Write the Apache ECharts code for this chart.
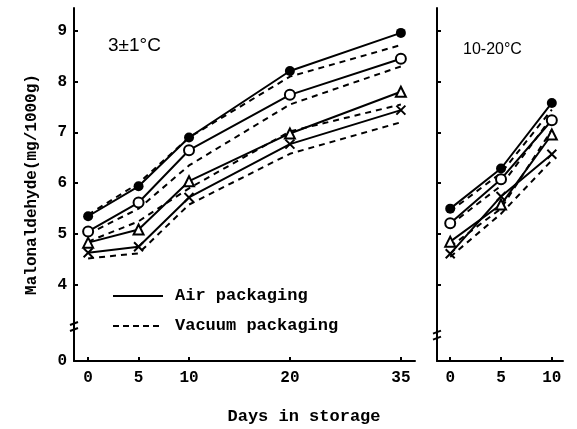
<!DOCTYPE html>
<html>
<head>
<meta charset="utf-8">
<script src="https://cdn.jsdelivr.net/npm/echarts@6/dist/echarts.min.js"></script>
<style>html,body{margin:0;background:#fff}#main{width:577px;height:429px}</style>
</head>
<body>
<div id="main"></div>
<script>
var chart = echarts.init(document.getElementById('main'));

var daysCold = [0, 5, 10, 20, 35];
var daysWarm = [0, 5, 10];
// rows: filled circle, open circle, triangle, cross
var coldAir = [
    [5.35, 5.94, 6.90, 8.21, 8.96],
    [5.05, 5.62, 6.65, 7.74, 8.45],
    [4.83, 5.09, 6.04, 6.98, 7.80],
    [4.63, 4.75, 5.72, 6.77, 7.44]
];
var coldVacuum = [
    [5.38, 6.00, 6.90, 8.10, 8.72],
    [5.00, 5.50, 6.35, 7.55, 8.30],
    [4.85, 5.25, 5.90, 7.02, 7.55],
    [4.52, 4.62, 5.58, 6.58, 7.20]
];
var warmAir = [
    [5.50, 6.29, 7.58],
    [5.21, 6.08, 7.24],
    [4.85, 5.58, 6.96],
    [4.61, 5.74, 6.57]
];
var warmVacuum = [
    [5.45, 6.20, 7.45],
    [5.18, 5.95, 7.30],
    [4.75, 5.50, 7.05],
    [4.55, 5.40, 6.45]
];
var yTicks = [4, 5, 6, 7, 8, 9];
var yLabels = [2.5, 4, 5, 6, 7, 8, 9];   // 2.5 is the broken-axis "0"
var coldTicks = [0, 5, 10, 20, 35];
var warmTicks = [0, 5, 10];

var markers = ['circle', 'emptyCircle', 'emptyTriangle', 'path://M0,0L10,10M10,0L0,10'];
var mono = 'Liberation Mono';

var pairs = function (days, vals) {
    return days.map(function (d, i) { return [d, vals[i]]; });
};

var series = [];
function addPanel(idx, days, air, vac) {
    for (var i = 0; i < air.length; i++) {
        series.push({
            type: 'line', name: 'Air packaging',
            xAxisIndex: idx, yAxisIndex: idx,
            data: pairs(days, air[i]),
            symbol: markers[i],
            symbolSize: i == 3 ? 9 : 10,
            lineStyle: {color: '#000', width: 2},
            itemStyle: {color: '#000', borderColor: '#000', borderWidth: i == 0 ? 0 : 2},
            z: 3
        });
        series.push({
            type: 'line', name: 'Vacuum packaging',
            xAxisIndex: idx, yAxisIndex: idx,
            data: pairs(days, vac[i]),
            showSymbol: false,
            lineStyle: {color: '#000', width: 2, type: [6, 5]}
        });
    }
}
addPanel(0, daysCold, coldAir, coldVacuum);
addPanel(1, daysWarm, warmAir, warmVacuum);

var axisLine = {show: true, onZero: false, lineStyle: {color: '#000', width: 2}};
var labelStyle = {color: '#000', fontFamily: mono, fontWeight: 'bold', fontSize: 16};

option = {
    animation: false,
    backgroundColor: '#fff',
    grid: [
        {left: 74, right: 162, top: 8, bottom: 68},
        {left: 437, right: 14, top: 8, bottom: 68}
    ],
    xAxis: [
        {
            type: 'value', gridIndex: 0, min: -1.4, max: 36.4,
            breaks: [{start: 25, end: 29, gap: 0}],
            breakArea: {show: false},
            axisLine: axisLine,
            axisTick: {inside: true, length: 4, customValues: coldTicks, lineStyle: {color: '#000', width: 2}},
            axisLabel: Object.assign({customValues: coldTicks, margin: 9}, labelStyle),
            splitLine: {show: false}
        },
        {
            type: 'value', gridIndex: 1, min: -1.3, max: 11.1,
            axisLine: axisLine,
            axisTick: {inside: true, length: 4, customValues: warmTicks, lineStyle: {color: '#000', width: 2}},
            axisLabel: Object.assign({customValues: warmTicks, margin: 9}, labelStyle),
            splitLine: {show: false}
        }
    ],
    yAxis: [
        {
            type: 'value', gridIndex: 0, min: 2.5, max: 9.45,
            axisLine: axisLine,
            axisTick: {inside: true, length: 4, customValues: yTicks, lineStyle: {color: '#000', width: 2}},
            axisLabel: Object.assign({
                customValues: yLabels, margin: 7,
                formatter: function (v) { return v == 2.5 ? '0' : v; }
            }, labelStyle),
            splitLine: {show: false},
            name: 'Malonaldehyde(mg/1000g)',
            nameLocation: 'middle',
            nameGap: 34,
            nameTextStyle: {color: '#000', fontFamily: mono, fontWeight: 'bold', fontSize: 16}
        },
        {
            type: 'value', gridIndex: 1, min: 2.5, max: 9.45,
            axisLine: axisLine,
            axisTick: {inside: true, length: 4, customValues: yTicks, lineStyle: {color: '#000', width: 2}},
            axisLabel: {show: false},
            splitLine: {show: false}
        }
    ],
    series: series
};

chart.setOption(option);

// break marks on the y axes, plus texts and legend
function breakMark(idx, xv, yv) {
    var p = chart.convertToPixel({xAxisIndex: idx, yAxisIndex: idx}, [xv, yv]);
    var st = {stroke: '#000', lineWidth: 2};
    return [
        {type: 'line', shape: {x1: p[0] - 4, y1: p[1] - 1, x2: p[0] + 4, y2: p[1] - 4}, style: st},
        {type: 'line', shape: {x1: p[0] - 4, y1: p[1] + 5, x2: p[0] + 4, y2: p[1] + 2}, style: st}
    ];
}
var txt = function (x, y, s, size, weight, family, align) {
    return {type: 'text', x: x, y: y, style: {text: s, fill: '#000', font: (weight || 'normal') + ' ' + size + 'px ' + (family || mono), align: align || 'left', verticalAlign: 'middle'}};
};

chart.setOption({
    graphic: [].concat(
        breakMark(0, -1.4, 3.19),
        breakMark(1, -1.3, 3.02),
        [
            txt(108, 46, '3±1°C', 19, 'normal', "'Liberation Sans'"),
            txt(463, 50, '10-20°C', 16, 'normal', "'Liberation Sans'"),
            txt(304, 417, 'Days in storage', 17, 'bold', mono, 'center'),
            {type: 'line', shape: {x1: 113, y1: 296, x2: 163, y2: 296}, style: {stroke: '#000', lineWidth: 2}},
            {type: 'line', shape: {x1: 113, y1: 326, x2: 163, y2: 326}, style: {stroke: '#000', lineWidth: 2, lineDash: [6, 4]}},
            txt(175, 296, 'Air packaging', 17, 'bold'),
            txt(175, 326, 'Vacuum packaging', 17, 'bold')
        ]
    )
});
</script>
</body>
</html>
